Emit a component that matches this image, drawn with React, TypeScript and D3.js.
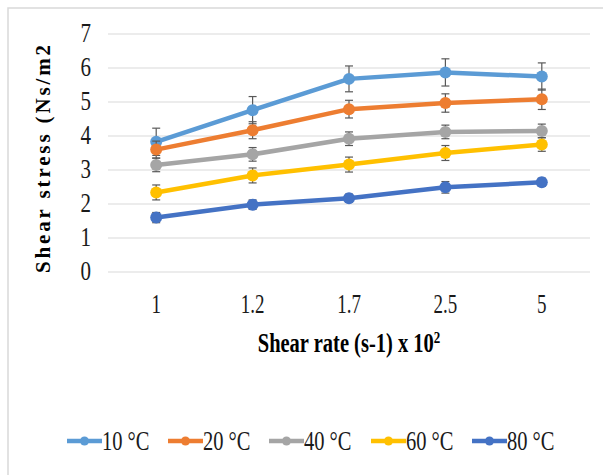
import React from "react";
import * as d3 from "d3";

const categories = ["1", "1.2", "1.7", "2.5", "5"];
const seriesNames = ["10 °C", "20 °C", "40 °C", "60 °C", "80 °C"];
const seriesColors = ["#5B9BD5", "#ED7D31", "#A5A5A5", "#FFC000", "#4472C4"];
const values10 = [3.83, 4.76, 5.68, 5.87, 5.75];
const values20 = [3.6, 4.17, 4.79, 4.97, 5.08];
const values40 = [3.15, 3.46, 3.92, 4.12, 4.15];
const values60 = [2.34, 2.84, 3.16, 3.5, 3.75];
const values80 = [1.6, 1.98, 2.17, 2.49, 2.64];
const errors10 = [0.4, 0.4, 0.38, 0.4, 0.4];
const errors20 = [0.25, 0.25, 0.26, 0.27, 0.3];
const errors40 = [0.2, 0.2, 0.2, 0.2, 0.2];
const errors60 = [0.22, 0.22, 0.22, 0.22, 0.2];
const errors80 = [0.15, 0.14, 0.12, 0.17, 0.12];
const yTicks = [0, 1, 2, 3, 4, 5, 6, 7];

const allValues = [values10, values20, values40, values60, values80];
const allErrors = [errors10, errors20, errors40, errors60, errors80];

export default function App() {
  const W = 603, H = 475;
  const x = d3.scaleBand<string>().domain(categories).range([108, 590]);
  const y = d3.scaleLinear().domain([0, 7]).range([272, 34]);
  const cxOf = (c: string) => (x(c) as number) + x.bandwidth() / 2;
  const line = d3
    .line<number>()
    .x((_, i) => cxOf(categories[i]))
    .y((d) => y(d));
  const serif = "Liberation Serif, Times New Roman, serif";
  const legendX = [67, 168, 269, 371, 472];
  const txt = "#1a1a1a";
  return (
    <svg width={W} height={H} style={{ position: "absolute", left: 0, top: 0, background: "#fff" }}>
      <rect x={0} y={0} width={W} height={H} fill="#fff" />
      <rect x={8} y={8} width={W + 20} height={H + 20} fill="none" stroke="#d9d9d9" strokeWidth={1.5} />
      {yTicks.map((t) => (
        <g key={t}>
          <line x1={108} x2={590} y1={y(t)} y2={y(t)} stroke="#d9d9d9" strokeWidth={1.2} />
          <g transform={`translate(91, ${y(t) + 8}) scale(1, 1.33)`}>
            <text x={0} y={0} textAnchor="end" fontFamily={serif} fontSize={21} fill={txt}>
              {t}
            </text>
          </g>
        </g>
      ))}
      {categories.map((c) => (
        <g key={c} transform={`translate(${cxOf(c)}, 313) scale(1, 1.4)`}>
          <text x={0} y={0} textAnchor="middle" fontFamily={serif} fontSize={19} fill={txt}>
            {c}
          </text>
        </g>
      ))}
      <text
        transform={`translate(50, 159) rotate(-90)`}
        textAnchor="middle"
        fontFamily={serif}
        fontWeight="bold"
        fontSize={21}
        textLength={228}
        lengthAdjust="spacing"
        fill="#000"
      >
        Shear stress (Ns/m2
      </text>
      <g transform={`translate(349, 352) scale(1, 1.3)`}>
        <text x={0} y={0} textAnchor="middle" fontFamily={serif} fontWeight="bold" fontSize={20.5} fill="#000">
          Shear rate (s-1) x 10<tspan dy={-7} fontSize={13}>2</tspan>
        </text>
      </g>
      {allValues.map((vals, si) => (
        <g key={si}>
          <path d={line(vals) || ""} fill="none" stroke={seriesColors[si]} strokeWidth={4.5} strokeLinejoin="round" />
          {vals.map((v, i) => {
            const cx = cxOf(categories[i]);
            const e = allErrors[si][i];
            return (
              <g key={i}>
                <line x1={cx} x2={cx} y1={y(v + e)} y2={y(v - e)} stroke="#595959" strokeWidth={1.2} />
                <line x1={cx - 4} x2={cx + 4} y1={y(v + e)} y2={y(v + e)} stroke="#595959" strokeWidth={1.2} />
                <line x1={cx - 4} x2={cx + 4} y1={y(v - e)} y2={y(v - e)} stroke="#595959" strokeWidth={1.2} />
                <circle cx={cx} cy={y(v)} r={6} fill={seriesColors[si]} />
              </g>
            );
          })}
        </g>
      ))}
      {seriesNames.map((n, i) => (
        <g key={n} transform={`translate(${legendX[i]}, 441)`}>
          <line x1={0} x2={35} y1={0} y2={0} stroke={seriesColors[i]} strokeWidth={4.5} />
          <circle cx={17.5} cy={0} r={4.5} fill={seriesColors[i]} />
          <g transform={`translate(35, 9) scale(1, 1.3)`}>
            <text x={0} y={0} fontFamily={serif} fontSize={20.5} fill={txt}>
              {n}
            </text>
          </g>
        </g>
      ))}
    </svg>
  );
}
